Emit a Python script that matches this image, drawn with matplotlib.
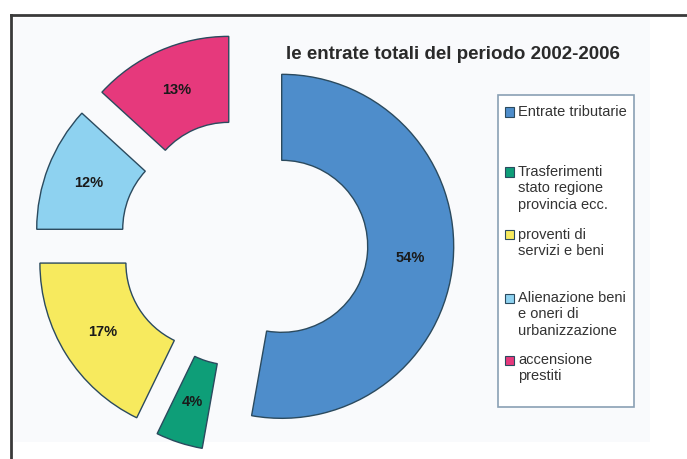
import matplotlib
matplotlib.use('Agg')
import matplotlib.pyplot as plt
from matplotlib.patches import Rectangle
from matplotlib.lines import Line2D

categories = ['Entrate tributarie',
              'Trasferimenti\nstato regione\nprovincia ecc.',
              'proventi di\nservizi e beni',
              'Alienazione beni\ne oneri di\nurbanizzazione',
              'accensione\nprestiti']
shares = [52.8, 4.4, 17.8, 11.8, 13.2]
pct_labels = ['54%', '4%', '17%', '12%', '13%']
colors = ['#4E8DCB', '#0E9E78', '#F7EA5E', '#8ED2F0', '#E6397C']
title = 'le entrate totali del periodo 2002-2006'

W, H = 687, 459
cx, cy, R = 244, 243, 172   # pie centre and radius in pixels (from top-left)

plt.rcParams['font.family'] = ['Liberation Sans', 'DejaVu Sans']

fig = plt.figure(figsize=(W / 100, H / 100), dpi=100, facecolor='white')

def fx(px) :
    return px / W

def fy(py) :
    return 1 - py / H

# faint panel + scan border
fig.patches.append(Rectangle((fx(14), fy(442)), fx(650) - fx(14), fy(18) - fy(442),
                             transform=fig.transFigure, facecolor='#F9FAFC',
                             edgecolor='none', zorder=-5))
fig.add_artist(Line2D([fx(11), 1.0], [fy(15), fy(15)], color='#3a3a3a', lw=2))
fig.add_artist(Line2D([fx(11), fx(11)], [fy(15), 0.0], color='#3a3a3a', lw=2))

ax = fig.add_axes([0, 0, 1, 1])
ax.set_zorder(1)
ax.patch.set_visible(False)

wedges, texts = ax.pie(
    shares, colors=colors, startangle=90, counterclock=False,
    explode=[0.22] * len(shares), radius=1,
    labels=pct_labels, labeldistance=0.75,
    wedgeprops=dict(width=0.5, edgecolor='#2b4a5e', linewidth=1),
    textprops=dict(fontsize=10.5, fontweight='bold', color='#1a1a1a'))
for t in texts :
    t.set_ha('center')
    t.set_va('center')

ax.set_xlim(-cx / R, (W - cx) / R)
ax.set_ylim(-(H - cy) / R, cy / R)
ax.set_aspect('equal')
ax.axis('off')

fig.text(fx(453), fy(59), title, ha='center', va='baseline',
         fontsize=13.5, fontweight='bold', color='#2a2a2a')

# legend box drawn by hand so the keys sit on the first line of each label
fig.patches.append(Rectangle((fx(498), fy(407)), fx(634) - fx(498), fy(95) - fy(407),
                             transform=fig.transFigure, facecolor='white',
                             edgecolor='#8aa0b4', linewidth=1.2, zorder=2))
entry_y = [112, 172, 235, 298, 360]
for lab, col, y in zip(categories, colors, entry_y) :
    fig.patches.append(Rectangle((fx(505), fy(y + 4.5)), fx(9), 9 / H,
                                 transform=fig.transFigure, facecolor=col,
                                 edgecolor='#2b4a5e', linewidth=0.8, zorder=3))
    fig.text(fx(518), fy(y - 7), lab, ha='left', va='top', fontsize=10.5,
             color='#333333', linespacing=1.22, zorder=3)

fig.savefig('out.png', dpi=100)
